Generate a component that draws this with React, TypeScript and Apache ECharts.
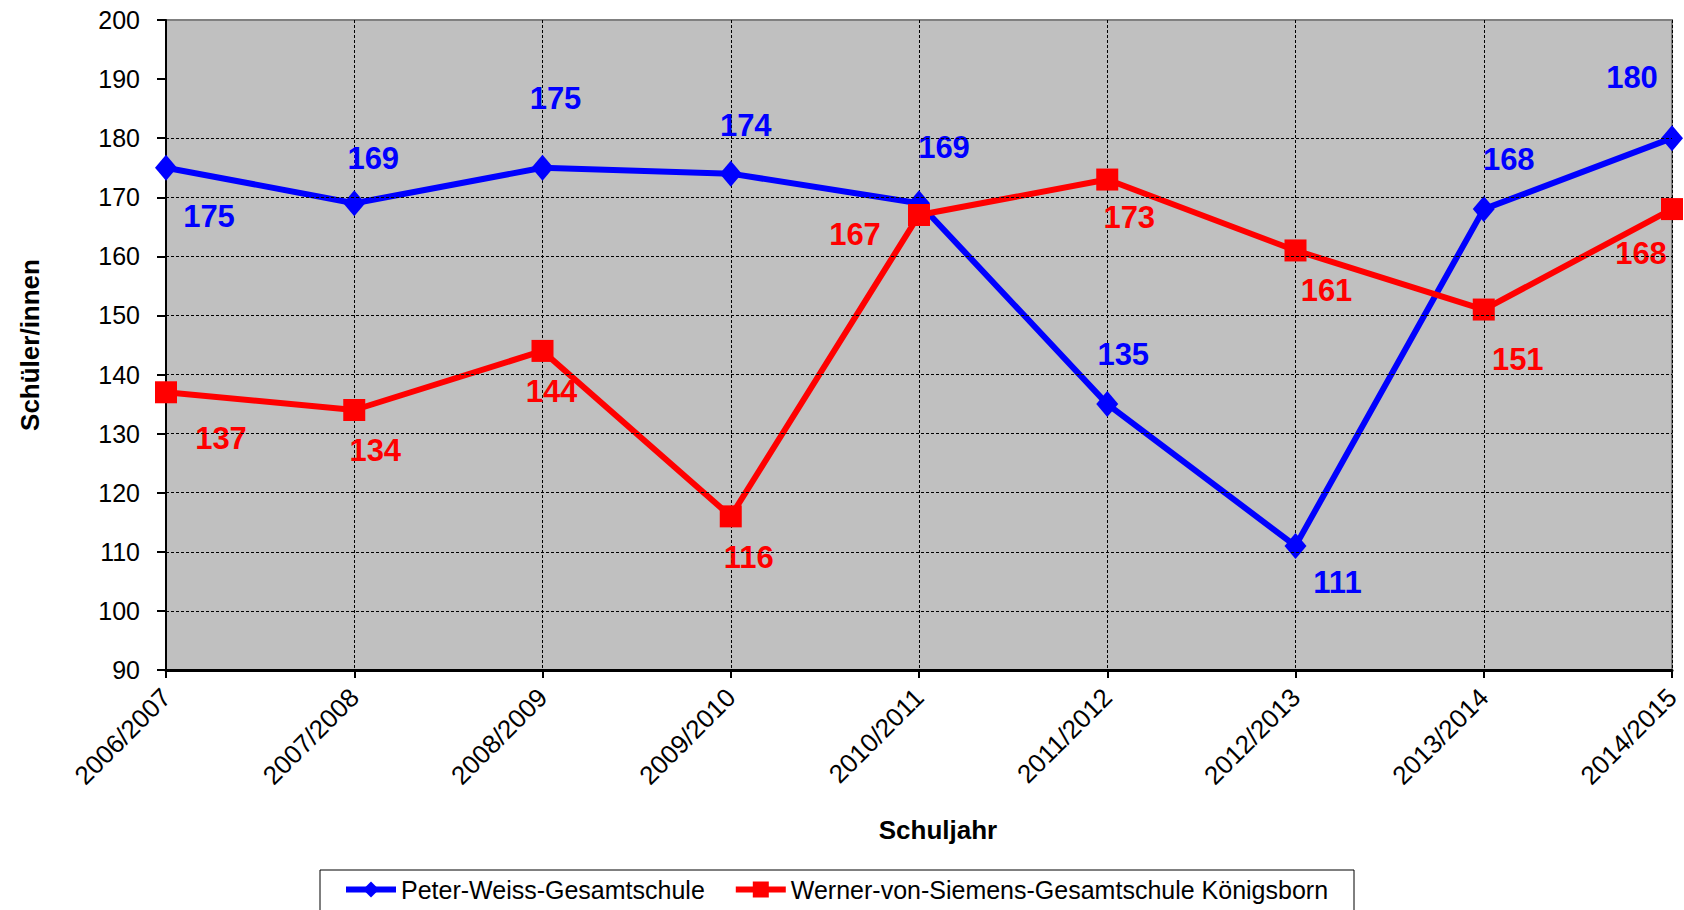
import React, { useEffect, useRef } from "react";
import * as echarts from "echarts";

const categories = ["2006/2007", "2007/2008", "2008/2009", "2009/2010", "2010/2011", "2011/2012", "2012/2013", "2013/2014", "2014/2015"];
const peterWeiss = [175, 169, 175, 174, 169, 135, 111, 168, 180];
const wernerVonSiemens = [137, 134, 144, 116, 167, 173, 161, 151, 168];
const gridValues = [100, 110, 120, 130, 140, 150, 160, 170, 180];
const seriesNames = ["Peter-Weiss-Gesamtschule", "Werner-von-Siemens-Gesamtschule Königsborn"];

const blueLabelOffsets = [[43, 49], [19, -45], [13, -69], [15, -48], [25, -56], [16, -50], [42, 37], [25, -50], [-40, -61]];
const redLabelOffsets = [[55, 46], [21, 40], [9, 41], [18, 41], [-64, 19], [22, 38], [31, 40], [34, 50], [-31, 44]];

const FONT = "'Liberation Sans', Arial, sans-serif";

export default function App() {
  const ref = useRef<HTMLDivElement>(null);
  useEffect(() => {
    document.body.style.margin = "0";
    const chart = echarts.init(ref.current!, null, { renderer: "svg" });
    const mkData = (vals: number[], offs: number[][], color: string) =>
      vals.map((v, i) => ({
        value: v,
        label: {
          show: true,
          position: "inside",
          offset: offs[i],
          color,
          fontSize: 31,
          fontWeight: "bold",
          fontFamily: FONT,
          align: "center",
          verticalAlign: "middle",
        },
      }));
    chart.setOption({
      animation: false,
      backgroundColor: "#ffffff",
      textStyle: { fontFamily: FONT },
      grid: {
        left: 166,
        right: 12,
        top: 20,
        bottom: 240,
        show: true,
        backgroundColor: "#c0c0c0",
        borderColor: "#808080",
        borderWidth: 2,
      },
      legend: {
        left: 343,
        top: 877,
        padding: 0,
        itemWidth: 50,
        itemHeight: 20,
        itemGap: 28,
        lineStyle: { width: 6 },
        textStyle: { fontSize: 25, color: "#000", fontFamily: FONT },
        data: seriesNames,
      },
      graphic: [
        {
          type: "rect",
          shape: { x: 320, y: 870, width: 1034, height: 60 },
          style: { fill: "none", stroke: "#000", lineWidth: 1 },
          silent: true,
        },
      ],
      xAxis: {
        type: "category",
        data: categories,
        boundaryGap: false,
        name: "Schuljahr",
        nameLocation: "middle",
        nameGap: 147,
        nameTextStyle: { fontSize: 26, fontWeight: "bold", color: "#000", fontFamily: FONT, padding: [0, 0, 0, 38] },
        axisLine: { show: true, lineStyle: { color: "#000", width: 3 } },
        axisTick: { show: true, length: 8, lineStyle: { color: "#000", width: 2 } },
        axisLabel: { rotate: 45, margin: 23, fontSize: 26, color: "#000", fontFamily: FONT },
        splitLine: { show: true, lineStyle: { color: "#000", width: 1, type: [3, 2] } },
      },
      yAxis: {
        type: "value",
        min: 90,
        max: 200,
        interval: 10,
        name: "Schüler/innen",
        nameLocation: "middle",
        nameGap: 123,
        nameTextStyle: { fontSize: 26, fontWeight: "bold", color: "#000", fontFamily: FONT },
        axisLine: { show: true, lineStyle: { color: "#000", width: 2 } },
        axisTick: { show: true, length: 9, lineStyle: { color: "#000", width: 2 } },
        axisLabel: { margin: 26, fontSize: 25, color: "#000", fontFamily: FONT },
        splitLine: { show: false },
      },
      series: [
        {
          name: "grid",
          type: "line",
          data: [],
          z: 1,
          silent: true,
          markLine: {
            silent: true,
            symbol: "none",
            label: { show: false },
            lineStyle: { color: "#000", width: 1, type: [3, 2] },
            data: gridValues.map((v) => ({ yAxis: v })),
          },
        },
        {
          name: seriesNames[0],
          type: "line",
          z: 3,
          data: mkData(peterWeiss, blueLabelOffsets, "#0000ff"),
          symbol: "diamond",
          symbolSize: [22, 26],
          itemStyle: { color: "#0000ff" },
          lineStyle: { color: "#0000ff", width: 6 },
        },
        {
          name: seriesNames[1],
          type: "line",
          z: 4,
          data: mkData(wernerVonSiemens, redLabelOffsets, "#ff0000"),
          symbol: "rect",
          symbolSize: 22,
          itemStyle: { color: "#ff0000" },
          lineStyle: { color: "#ff0000", width: 6 },
        },
      ],
    });
    return () => chart.dispose();
  }, []);
  return <div ref={ref} style={{ width: 1684, height: 910 }} />;
}
